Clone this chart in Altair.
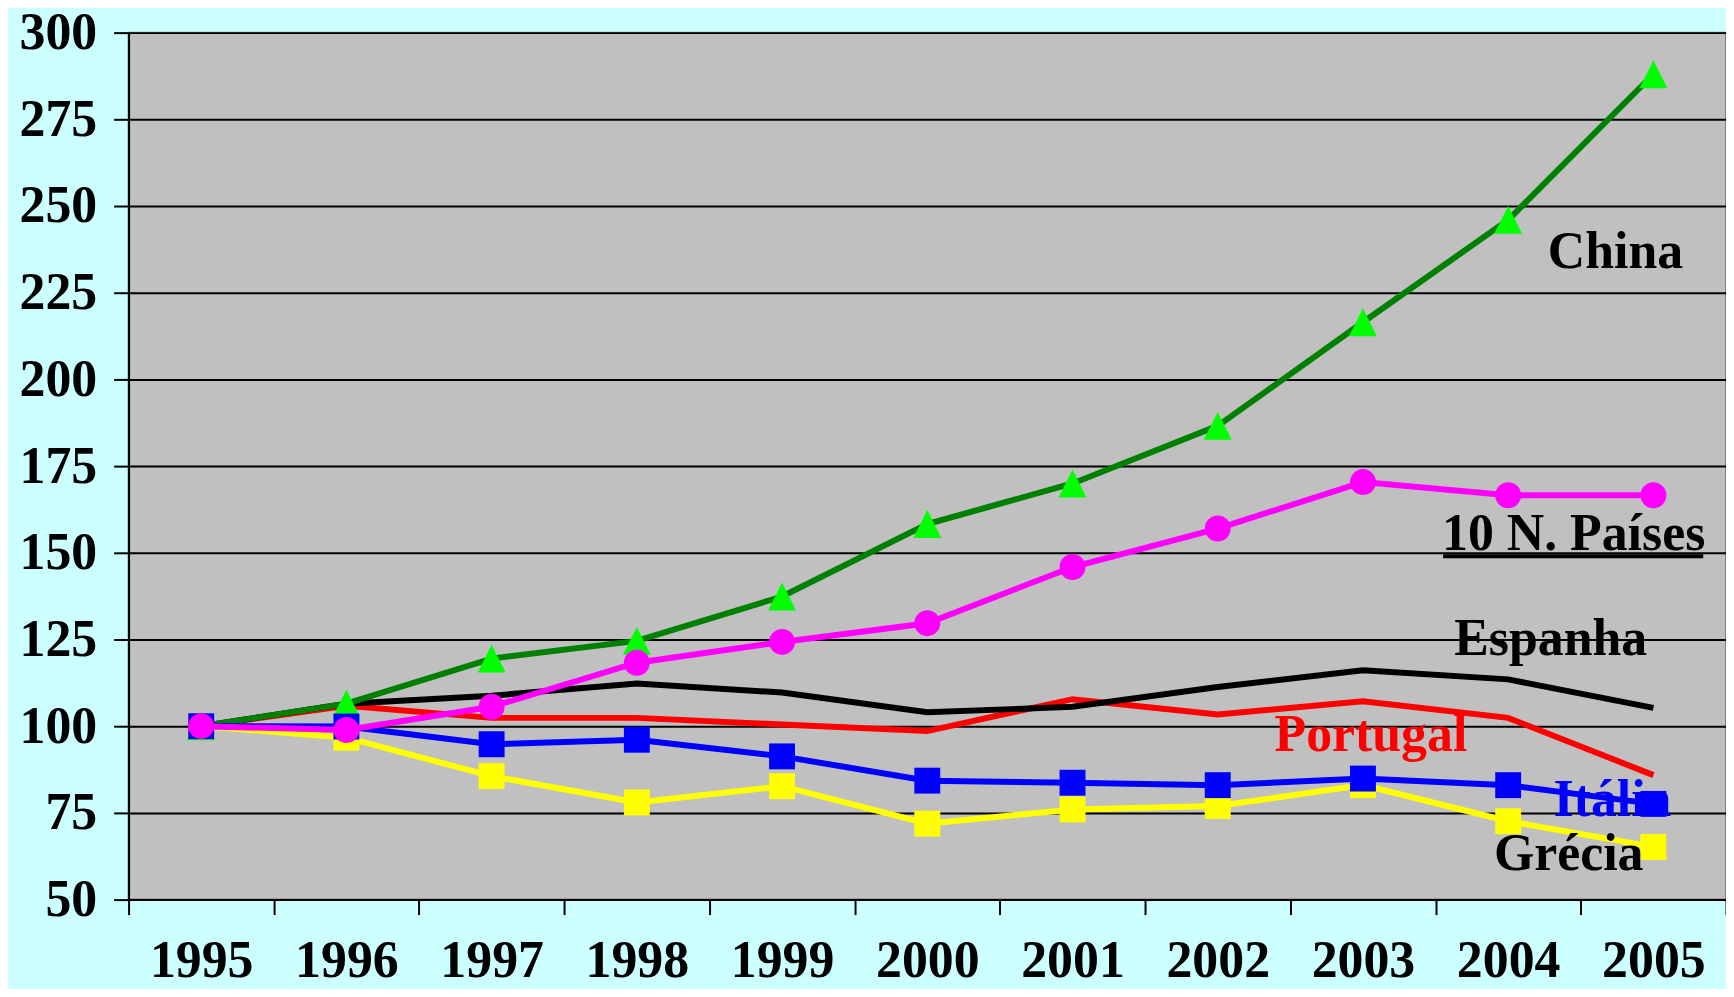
import altair as alt
import pandas as pd

years = ["1995", "1996", "1997", "1998", "1999", "2000", "2001", "2002", "2003", "2004", "2005"]
china = [100, 106.5, 119.5, 124.6, 137.4, 158.3, 170.0, 186.6, 216.5, 246.0, 288.0]
paises = [100, 98.9, 105.6, 118.3, 124.3, 129.7, 145.9, 157.0, 170.4, 166.6, 166.6]
espanha = [100, 106.5, 108.8, 112.3, 109.7, 104.0, 105.6, 111.3, 116.1, 113.5, 105.3]
portugal = [100, 105.9, 102.4, 102.4, 100.5, 98.6, 107.8, 103.4, 107.2, 102.4, 85.9]
italia = [100, 99.9, 94.8, 96.1, 91.3, 84.3, 83.7, 83.0, 84.9, 83.0, 77.6]
grecia = [100, 96.7, 85.6, 78.0, 82.7, 71.9, 76.0, 77.0, 83.0, 72.6, 65.2]
y_ticks = [50, 75, 100, 125, 150, 175, 200, 225, 250, 275, 300]

series_names = ["Grécia", "Portugal", "Espanha", "China", "Itália", "10 N. Países"]
series_values = [grecia, portugal, espanha, china, italia, paises]

rows = []
for name, vals in zip(series_names, series_values):
    for yr, v in zip(years, vals):
        rows.append({"series": name, "year": yr, "value": v})
df = pd.DataFrame(rows)

FONT = "Liberation Serif"
TRI = "M0,-1L1,1L-1,1Z"

# style per series: line colour, marker colour, marker shape, marker size
styles = {
    "Grécia": ("#FFFF00", "#FFFF00", "square", 676),
    "Portugal": ("#FF0000", None, None, None),
    "Espanha": ("#000000", None, None, None),
    "China": ("#008000", "#00FF00", TRI, 784),
    "Itália": ("#0000FF", "#0000FF", "square", 676),
    "10 N. Países": ("#FF00FF", "#FF00FF", "circle", 676),
}

x_enc = alt.X(
    "year:N",
    scale=alt.Scale(type="band", domain=years, paddingInner=0, paddingOuter=0),
    axis=alt.Axis(
        title=None, tickBand="extent", labelAngle=0, labelFont=FONT,
        labelFontSize=52, labelFontWeight="bold", labelColor="black",
        labelPadding=62, labelBaseline="alphabetic", tickSize=15, tickWidth=2,
        tickColor="black", domainColor="black", domainWidth=2, grid=False,
    ),
)
y_enc = alt.Y(
    "value:Q",
    scale=alt.Scale(domain=[50, 300], nice=False, zero=False),
    axis=alt.Axis(
        title=None, values=y_ticks, labelFont=FONT, labelFontSize=52,
        labelFontWeight="bold", labelColor="black", labelPadding=17,
        tickSize=15, tickWidth=2, tickColor="black", domainColor="black",
        domainWidth=2, grid=True, gridColor="black", gridWidth=2,
    ),
)

layers = []
for name in series_names:
    lc, mc, shape, size = styles[name]
    base = alt.Chart(df).transform_filter(alt.datum.series == name)
    layers.append(base.mark_line(color=lc, strokeWidth=6).encode(x=x_enc, y=y_enc))
    if mc is not None:
        layers.append(
            base.mark_point(shape=shape, filled=True, size=size, color=mc,
                            opacity=1, strokeWidth=0).encode(x=x_enc, y=y_enc)
        )

# series labels
label_text = ["China", "10 N. Países", "Espanha", "Portugal", "Itália", "Grécia"]
label_year = ["2005", "2005", "2005", "2003", "2005", "2005"]
label_value = [232.1, 150.8, 120.6, 92.8, 74.0, 58.6]
label_color = ["black", "black", "black", "#FF0000", "#0000FF", "black"]
label_dx = [-38, -80, -103, 8, -41, -85]

text_layers = []
for t, yr, v, c, dx in zip(label_text, label_year, label_value, label_color, label_dx):
    text_layers.append(
        alt.Chart(pd.DataFrame({"label": [t]}))
        .mark_text(font=FONT, fontSize=52, fontWeight="bold", color=c,
                   align="center", baseline="alphabetic", dx=dx)
        .encode(x=alt.datum(yr), y=alt.datum(v), text="label:N")
    )

underline = (
    alt.Chart(pd.DataFrame({"label": ["10 N. Países"]}))
    .mark_rule(color="black", strokeWidth=4, xOffset=-211, x2Offset=50)
    .encode(x=alt.datum("2005"), x2=alt.datum("2005"), y=alt.datum(149.0))
)

# labels drawn under the top markers (Itália text lies under its 2005 square)
ordered = layers[:6] + text_layers + [underline] + layers[6:]

chart = (
    alt.layer(*ordered)
    .properties(
        width=1603, height=870,
        background="#CCFFFF",
        padding={"left": 121, "top": 23, "right": 0, "bottom": 88},
        autosize=alt.AutoSizeParams(type="none"),
    )
    .configure_view(fill="#C0C0C0", stroke="#808080", strokeWidth=2)
)

chart.save("out.html", embed_options={"renderer": "svg", "actions": False})
